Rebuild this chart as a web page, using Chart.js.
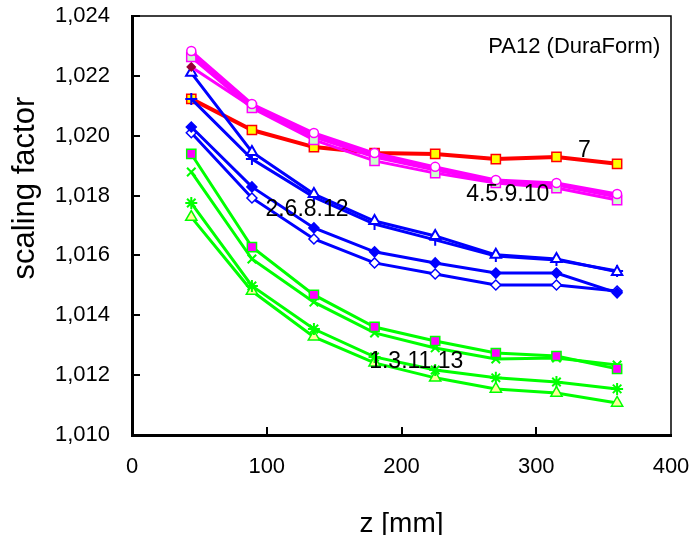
<!DOCTYPE html>
<html>
<head>
<meta charset="utf-8">
<script src="https://cdn.jsdelivr.net/npm/chart.js@4"></script>
<style>
  html, body { margin: 0; padding: 0; background: #fff; }
  canvas { display: block; }
</style>
</head>
<body>
<canvas id="chart" width="691" height="535"></canvas>
<script>
// build positions z [mm]
const zValues = [44, 89, 135, 180, 225, 270, 315, 360];

// groups 4,5,9,10
const m1Circle = [1.02283, 1.02106, 1.02009, 1.01942, 1.01896, 1.01852, 1.01842, 1.01805];
const m2Square = [1.02263, 1.02093, 1.01986, 1.01916, 1.01875, 1.01842, 1.01825, 1.01785];
const m3Diamond = [1.02230, 1.02096, 1.01996, 1.01929, 1.01885, 1.01845, 1.01835, 1.01795];
const m4Plus = [1.02273, 1.02103, 1.02002, 1.01936, 1.01892, 1.01849, 1.01839, 1.01799];

// groups 2,6,8,12
const b1Triangle = [1.02210, 1.01946, 1.01805, 1.01715, 1.01665, 1.01602, 1.01588, 1.01545];
const b2Plus = [1.02123, 1.01922, 1.01795, 1.01705, 1.01652, 1.01598, 1.01585, 1.01548];
const b3Diamond = [1.02029, 1.01829, 1.01692, 1.01612, 1.01575, 1.01541, 1.01541, 1.01475];
const b4OpenDiamond = [1.02010, 1.01792, 1.01655, 1.01575, 1.01538, 1.01501, 1.01501, 1.01481];

// group 7
const r7Square = [1.02123, 1.02019, 1.01962, 1.01942, 1.01939, 1.01922, 1.01929, 1.01906];

// groups 1,3,11,13
const g1Square = [1.01939, 1.01628, 1.01468, 1.01361, 1.01314, 1.01274, 1.01264, 1.01221];
const g2Cross = [1.01879, 1.01588, 1.01444, 1.01341, 1.01291, 1.01254, 1.01257, 1.01234];
const g3Star = [1.01775, 1.01498, 1.01354, 1.01261, 1.01217, 1.01191, 1.01177, 1.01154];
const g4Triangle = [1.01728, 1.01481, 1.01328, 1.01241, 1.01191, 1.01154, 1.01140, 1.01107];

const yTicks = [1.010, 1.012, 1.014, 1.016, 1.018, 1.020, 1.022, 1.024];
const xTicks = [0, 100, 200, 300, 400];

const notes = [
  { text: '2.6.8.12', z: 99, v: 1.01752, align: 'left', size: 23 },
  { text: '4.5.9.10', z: 248, v: 1.01802, align: 'left', size: 23 },
  { text: '7', z: 331, v: 1.01950, align: 'left', size: 23 },
  { text: '1.3.11.13', z: 176, v: 1.01244, align: 'left', size: 23 },
  { text: 'PA12 (DuraForm)', z: 392, v: 1.02296, align: 'right', size: 22 },
];

const FONT = "'Liberation Sans', Arial, sans-serif";
const MAGENTA = '#ff00ff';
const BLUE = '#0000ff';
const RED = '#ff0000';
const GREEN = '#00ff00';

function series(values, color, style, opts = {}) {
  return {
    data: values.map((v, i) => ({ x: zValues[i], y: v })),
    borderColor: color,
    borderWidth: opts.lineWidth ?? 3,
    pointStyle: style,
    pointRadius: opts.radius ?? 5,
    pointBorderColor: opts.markerBorder ?? color,
    pointBackgroundColor: opts.fill ?? 'rgba(0,0,0,0)',
    pointBorderWidth: opts.markerWidth ?? 1.5,
    tension: 0,
    fill: false,
  };
}

// frame, inward ticks, y title and text labels
const decorations = {
  id: 'decorations',
  afterDatasetsDraw(chart) {
    const { ctx, chartArea: a, scales: { x, y } } = chart;
    ctx.save();
    ctx.strokeStyle = '#000';
    ctx.lineWidth = 1.5;
    ctx.beginPath();
    ctx.moveTo(a.left, a.top);
    ctx.lineTo(a.right, a.top);
    ctx.lineTo(a.right, a.bottom);
    ctx.stroke();

    ctx.lineWidth = 2;
    ctx.beginPath();
    yTicks.forEach((t) => {
      const py = Math.round(y.getPixelForValue(t));
      ctx.moveTo(a.left, py);
      ctx.lineTo(a.left + 8, py);
    });
    xTicks.slice(1, -1).forEach((t) => {
      const px = Math.round(x.getPixelForValue(t));
      ctx.moveTo(px, a.bottom);
      ctx.lineTo(px, a.bottom - 8);
    });
    ctx.stroke();

    ctx.fillStyle = '#000';
    ctx.textBaseline = 'middle';
    notes.forEach((n) => {
      ctx.font = `${n.size}px ${FONT}`;
      ctx.textAlign = n.align;
      ctx.fillText(n.text, x.getPixelForValue(n.z), y.getPixelForValue(n.v));
    });

    ctx.translate(25, y.getPixelForValue(1.01825));
    ctx.rotate(-Math.PI / 2);
    ctx.font = `31px ${FONT}`;
    ctx.textAlign = 'center';
    ctx.fillText('scaling factor', 0, 0);
    ctx.restore();
  },
};

new Chart(document.getElementById('chart'), {
  type: 'line',
  data: {
    datasets: [
      series(m1Circle, MAGENTA, 'circle', { radius: 4.5, fill: '#ffffff' }),
      series(m2Square, MAGENTA, 'rect', { radius: 6.5, fill: '#ccffcc' }),
      series(m4Plus, MAGENTA, 'cross', { radius: 5, markerWidth: 2 }),
      series(m3Diamond, MAGENTA, 'rectRot', { radius: 4, fill: '#990033', markerBorder: '#990033' }),
      series(b1Triangle, BLUE, 'triangle', { radius: 6, fill: '#ffffff', markerWidth: 2 }),
      series(b2Plus, BLUE, 'cross', { radius: 6, markerWidth: 2 }),
      series(b3Diamond, BLUE, 'rectRot', { radius: 5, fill: BLUE }),
      series(b4OpenDiamond, BLUE, 'rectRot', { radius: 5, fill: '#ffffff' }),
      series(r7Square, RED, 'rect', { radius: 6.5, fill: '#ffff00', lineWidth: 4 }),
      series(g1Square, GREEN, 'rect', { radius: 6.5, fill: MAGENTA }),
      series(g2Cross, GREEN, 'crossRot', { radius: 6, markerWidth: 2 }),
      series(g3Star, GREEN, 'star', { radius: 6, markerWidth: 2 }),
      series(g4Triangle, GREEN, 'triangle', { radius: 6.5, fill: '#ffff99' }),
    ],
  },
  options: {
    responsive: false,
    devicePixelRatio: 1,
    animation: false,
    layout: { padding: { top: 16, right: 20, left: 0, bottom: 0 } },
    plugins: {
      legend: { display: false },
      tooltip: { enabled: false },
    },
    scales: {
      x: {
        type: 'linear',
        min: 0,
        max: 400,
        afterFit: (scale) => {
          scale.height = 100;
          scale.paddingLeft = 0;
          scale.paddingRight = 0;
        },
        afterBuildTicks: (scale) => { scale.ticks = xTicks.map((v) => ({ value: v })); },
        grid: { display: true, drawOnChartArea: false, drawTicks: false },
        border: { color: '#000', width: 3 },
        ticks: { color: '#000', padding: 19, font: { family: FONT, size: 22 }, maxRotation: 0 },
        title: {
          display: true,
          text: 'z [mm]',
          color: '#000',
          font: { family: FONT, size: 28, lineHeight: 1 },
          padding: { top: 0, bottom: -3 },
        },
      },
      y: {
        min: 1.010,
        max: 1.024,
        afterFit: (scale) => {
          scale.width = 132;
          scale.paddingTop = 0;
          scale.paddingBottom = 0;
        },
        afterBuildTicks: (scale) => { scale.ticks = yTicks.map((v) => ({ value: v })); },
        grid: { display: true, drawOnChartArea: false, drawTicks: false },
        border: { color: '#000', width: 3 },
        ticks: {
          color: '#000',
          padding: 22,
          font: { family: FONT, size: 22 },
          callback: (v) => Number(v).toFixed(3).replace('.', ','),
        },
        title: { display: false },
      },
    },
  },
  plugins: [decorations],
});
</script>
</body>
</html>
